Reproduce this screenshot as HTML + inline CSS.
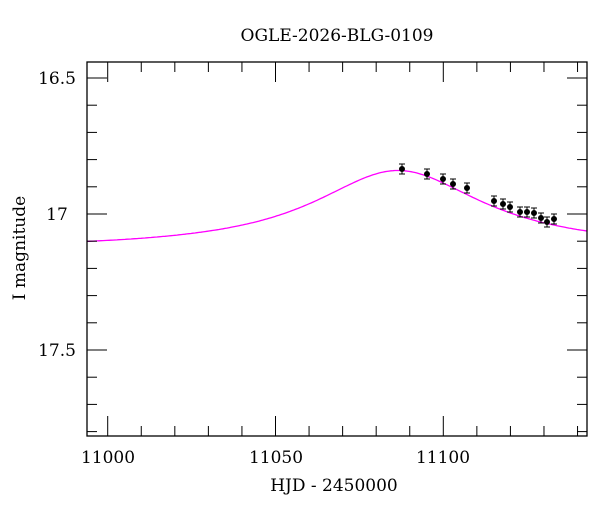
<!DOCTYPE html><html><head><style>body{margin:0;background:#fff}svg text{font-family:"DejaVu Serif","Liberation Serif",serif;fill:#000}</style></head><body>
<svg id="s" width="600" height="512" xmlns="http://www.w3.org/2000/svg">
<text x="337" y="41" font-size="17" text-anchor="middle">OGLE-2026-BLG-0109</text>
<path id="c" fill="none" stroke="#ff00ff" stroke-width="1.3"/>
<g id="d" stroke="#000" stroke-width="1"></g>
<rect x="87" y="62" width="500" height="374" fill="none" stroke="#000" stroke-width="1.3"/>
<g id="t" stroke="#000" stroke-width="1"></g>
<g font-size="17">
<text x="57" y="84" text-anchor="middle">16.5</text>
<text x="57" y="220" text-anchor="middle">17</text>
<text x="57" y="356" text-anchor="middle">17.5</text>
<text x="108" y="463" text-anchor="middle">11000</text>
<text x="276" y="463" text-anchor="middle">11050</text>
<text x="443" y="463" text-anchor="middle">11100</text>
<text x="334" y="491" text-anchor="middle">HJD - 2450000</text>
<text transform="translate(25,248) rotate(-90)" text-anchor="middle">I magnitude</text>
</g>
</svg>
<script>
function my(m){return 78+(m-16.5)*272;}
var p="";for(var x=87;x<=587;x+=2){var f=1/(1+Math.pow((x-398)/104,2));var m=17.13-0.29*f;p+=(x==87?"M":"L")+x+","+my(m).toFixed(1);}
document.getElementById("c").setAttribute("d",p);
var pts=[[402,169],[427,174],[443,179],[453,184],[467,188],[494,201],[503,204],[510,207],[520,212],[527,212],[534,213],[541,218],[547,222],[554,219]];
var h="";
pts.forEach(function(q){var x=q[0],y=q[1];h+='<line x1="'+x+'" y1="'+(y-5)+'" x2="'+x+'" y2="'+(y+5)+'"/><line x1="'+(x-3)+'" y1="'+(y-5)+'" x2="'+(x+3)+'" y2="'+(y-5)+'"/><line x1="'+(x-3)+'" y1="'+(y+5)+'" x2="'+(x+3)+'" y2="'+(y+5)+'"/><circle cx="'+x+'" cy="'+y+'" r="2.5" fill="#000"/>';});
document.getElementById("d").innerHTML=h;
var t="";for(var v=11000;v<=11140;v+=10){var x=107.7+(v-11000)*3.356;var L=(v%50==0)?20:10;t+='<line x1="'+x+'" y1="436" x2="'+x+'" y2="'+(436-L)+'"/><line x1="'+x+'" y1="62" x2="'+x+'" y2="'+(62+L)+'"/>';}
for(var i=165;i<=180;i++){var y=my(i/10);if(y<62||y>436)continue;var L=(i%5==0)?20:10;t+='<line x1="87" y1="'+y+'" x2="'+(87+L)+'" y2="'+y+'"/><line x1="587" y1="'+y+'" x2="'+(587-L)+'" y2="'+y+'"/>';}
document.getElementById("t").innerHTML=t;
</script>
</body></html>
